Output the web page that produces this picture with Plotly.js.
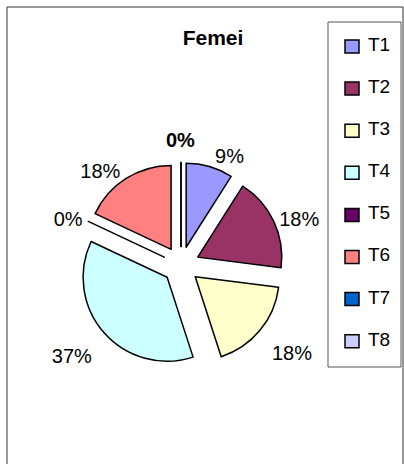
<!DOCTYPE html>
<html>
<head>
<meta charset="utf-8">
<script src="https://cdn.plot.ly/plotly-3.0.1.min.js"></script>
<style>
  html, body { margin: 0; padding: 0; background: #fff; }
  #plot { width: 404px; height: 464px; }
</style>
</head>
<body>
<div id="plot"></div>
<script>
// data (percent of total)
var categories = ['T1', 'T2', 'T3', 'T4', 'T5', 'T6', 'T7', 'T8'];
var values = [9, 18, 18, 37, 0, 18, 0, 0];
var colors = ['#9999FF', '#993366', '#FFFFCC', '#CCFFFF', '#660066', '#FF8080', '#0066CC', '#CCCCFF'];
var chartTitle = 'Femei';

var W = 404, H = 464;
function px(x) { return x / W; }
function py(y) { return 1 - y / H; }
var total = values.reduce(function(a, b) { return a + b; }, 0);
var lblFont = { family: 'Liberation Sans, Arial, sans-serif', size: 20, color: '#000' };

// T7 and T8 end up at 12 o'clock with the same label, drawn on top of
// each other in the original (looks bold). plotly scoots them apart, so
// they get one bold annotation instead. bottom labels sit a line lower.
var labelFmt = categories.map(function(c, i) {
  if (i === 2 || i === 3) return '&nbsp;<br>%{percent:.0%}';
  return '%{percent:.0%}';
});
var labelPos = categories.map(function(c, i) {
  return (i === 6 || i === 7) ? 'none' : 'outside';
});

var data = [{
  type: 'pie',
  labels: categories,
  values: values,
  sort: false,
  direction: 'clockwise',
  rotation: 0,
  pull: 0.22,
  marker: { colors: colors, line: { color: '#000', width: 1.5 } },
  texttemplate: labelFmt,
  textposition: labelPos,
  outsidetextfont: lblFont,
  hoverinfo: 'label+percent',
  domain: { x: [px(78.5), px(283.5)], y: [py(367.5), py(162.5)] },
  showlegend: false
}];

// frame + legend box drawn by hand, Excel style
var shapes = [
  { type: 'rect', xref: 'paper', yref: 'paper', x0: px(7), x1: px(403), y0: py(470), y1: py(7),
    line: { color: '#333', width: 1 } },
  { type: 'rect', xref: 'paper', yref: 'paper', x0: px(328), x1: px(401), y0: py(367), y1: py(22),
    line: { color: '#555', width: 1 } }
];
var annotations = [{
  xref: 'paper', yref: 'paper', x: px(180), y: py(140), xanchor: 'center', yanchor: 'middle',
  showarrow: false, font: lblFont,
  text: '<b>' + Math.round(values[6] / total * 100) + '%</b>'
}];
categories.forEach(function(c, i) {
  var cy = 46.5 + i * 42.1;
  shapes.push({ type: 'rect', xref: 'paper', yref: 'paper',
    x0: px(345), x1: px(359), y0: py(cy + 6.5), y1: py(cy - 6.5),
    fillcolor: colors[i], line: { color: '#000', width: 1.5 } });
  annotations.push({ xref: 'paper', yref: 'paper', x: px(366), y: py(cy - 2),
    xanchor: 'left', yanchor: 'middle', showarrow: false, text: c,
    font: { family: 'Liberation Sans, Arial, sans-serif', size: 19, color: '#000' } });
});

var layout = {
  width: W,
  height: H,
  margin: { l: 0, r: 0, t: 0, b: 0 },
  paper_bgcolor: '#fff',
  title: { text: '<b>' + chartTitle + '</b>', x: px(213), xanchor: 'center', xref: 'paper',
    y: py(38), yanchor: 'middle', yref: 'paper',
    font: { family: 'Liberation Sans, Arial, sans-serif', size: 21, color: '#000' } },
  shapes: shapes,
  annotations: annotations,
  showlegend: false
};

Plotly.newPlot('plot', data, layout, { displayModeBar: false, staticPlot: true });
</script>
</body>
</html>
